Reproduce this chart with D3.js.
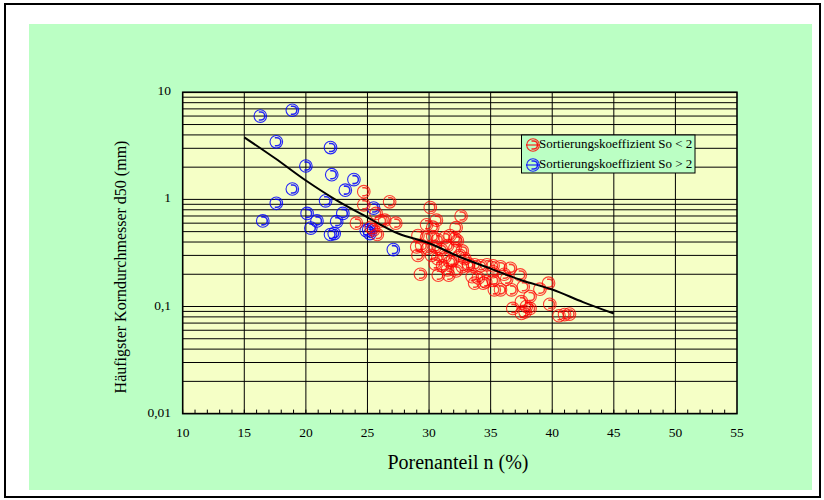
<!DOCTYPE html>
<html><head><meta charset="utf-8">
<script src="https://cdn.jsdelivr.net/npm/d3@7/dist/d3.min.js"></script>
<style>body{margin:0;background:#fff}svg{display:block}</style>
</head><body><svg id="c" width="824" height="500" font-family="'Liberation Serif', 'Times New Roman', Times, 'DejaVu Serif', serif"></svg>
<script>
// ---- data ----
const xTicks = [10,15,20,25,30,35,40,45,50,55];
const yTicks = [10,1,0.1,0.01];
const yTickLabels = ["10","1","0,1","0,01"];
const seriesNames = ["Sortierungskoeffizient So < 2","Sortierungskoeffizient So > 2"];
const blueX = [16.3,18.9,17.6,22.0,20.0,22.1,23.9,23.2,18.9,21.6,17.6,16.5,20.1,20.9,20.4,23.0,22.5,22.0,22.3,24.9,25.5,25.1,25.2,27.1];
const blueY = [6.0,6.8,3.45,3.05,2.05,1.7,1.53,1.22,1.25,0.97,0.92,0.63,0.74,0.63,0.54,0.74,0.62,0.47,0.48,0.51,0.83,0.52,0.48,0.34];
const redX = [24.7,24.7,26.8,24.1,25.7,26.4,27.3,25.5,25.8,25.3,26.1,
  30.1,32.6,30.6,29.8,32.2,30.3,
  29.1,29.8,30.3,30.7,31.3,31.7,32.1,32.3,
  29.4,29.9,30.5,31.0,31.5,32.1,32.7,
  30.2,30.7,31.3,31.9,32.5,32.9,
  30.5,31.1,31.7,32.7,33.2,
  31.5,32.2,
  29.0,29.1,29.3,30.75,31.6,
  33.2,33.7,34.2,34.7,35.2,35.8,33.5,34.0,34.6,35.2,33.7,34.4,35.3,36.6,35.2,37.4,36.7,35.8,37.65,38.2,37.5,37.9,38.2,36.8,37.5,37.8,39.7,39.0,39.8,40.55,41.0,41.4,36.1,36.3];
const redY = [1.18,0.89,0.95,0.60,0.74,0.64,0.60,0.52,0.47,0.55,0.63,
  0.84,0.70,0.64,0.58,0.545,0.55,
  0.46,0.44,0.45,0.42,0.44,0.46,0.43,0.41,
  0.37,0.35,0.36,0.34,0.37,0.35,0.33,
  0.30,0.28,0.29,0.27,0.30,0.28,
  0.25,0.24,0.26,0.235,0.25,
  0.22,0.215,
  0.36,0.30,0.20,0.196,0.196,
  0.24,0.245,0.24,0.245,0.24,0.235,0.19,0.185,0.17,0.175,0.165,0.165,0.143,0.227,0.211,0.197,0.143,0.143,0.153,0.124,0.111,0.10,0.096,0.096,0.086,0.089,0.165,0.145,0.105,0.082,0.084,0.085,0.20,0.18];
const fitX = [15,17.5,20,22.5,25,27.5,30,32.5,35,37.5,40,42.5,45];
const fitY = [3.8,2.42,1.5,0.98,0.68,0.48,0.39,0.29,0.226,0.176,0.144,0.11,0.086];

// ---- layout ----
const svg = d3.select("#c");
const L=182.7, R=737, T=92.3, B=413.6;
const x = d3.scaleLinear().domain([10,55]).range([L,R]);
const y = d3.scaleLog().domain([0.01,10]).range([B,T]);

svg.append("rect").attr("x",5).attr("y",4).attr("width",815).attr("height",493)
  .attr("fill","#fff").attr("stroke","#000").attr("stroke-width",2);
svg.append("rect").attr("x",29).attr("y",24).attr("width",783).attr("height",466).attr("fill","#BBFFC4");
svg.append("rect").attr("x",L).attr("y",T).attr("width",R-L).attr("height",B-T).attr("fill","#F5FFC6");

// horizontal grid at every log tick
const hGrid = y.ticks().filter(v=>v>0.01-1e-9 && v<10+1e-9);
svg.append("g").selectAll("line").data(hGrid).join("line")
  .attr("x1",L).attr("x2",R).attr("y1",d=>y(d)).attr("y2",d=>y(d))
  .attr("stroke","#000").attr("stroke-width",1);
// vertical grid
svg.append("g").selectAll("line").data(xTicks.slice(1,-1)).join("line")
  .attr("x1",d=>x(d)).attr("x2",d=>x(d)).attr("y1",T).attr("y2",B)
  .attr("stroke","#000").attr("stroke-width",1);
// minor x ticks
svg.append("g").selectAll("line").data(d3.range(10,55,1)).join("line")
  .attr("x1",d=>x(d)).attr("x2",d=>x(d)).attr("y1",B).attr("y2",B-4)
  .attr("stroke","#000").attr("stroke-width",1);
svg.append("rect").attr("x",L).attr("y",T).attr("width",R-L).attr("height",B-T)
  .attr("fill","none").attr("stroke","#000").attr("stroke-width",1.6);

// tick labels
svg.append("g").selectAll("text").data(xTicks).join("text")
  .attr("x",d=>x(d)).attr("y",434).attr("text-anchor","middle").attr("dominant-baseline","middle")
  .attr("font-size",13.5).text(d=>d);
svg.append("g").selectAll("text").data(yTicks).join("text")
  .attr("x",171).attr("y",d=>y(d)).attr("text-anchor","end").attr("dominant-baseline","middle")
  .attr("font-size",13.5).text((d,i)=>yTickLabels[i]);

// axis titles
svg.append("text").attr("x",458).attr("y",464).attr("text-anchor","middle").attr("dominant-baseline","middle")
  .attr("font-size",20).text("Porenanteil n (%)");
svg.append("text").attr("transform",`translate(122,267) rotate(-90)`).attr("text-anchor","middle")
  .attr("dominant-baseline","middle").attr("font-size",16).text("Häufigster Korndurchmesser d50 (mm)");

// markers
function marker(g,color,op){
  g.append("circle").attr("r",6.3).attr("fill","none").attr("stroke",color).attr("stroke-width",1.1).attr("stroke-opacity",op);
  g.append("path").attr("d","M-1.5,-4 L0.5,-4 A4,4 0 0,1 0.5,4 L-1.5,4").attr("fill","none")
    .attr("stroke",color).attr("stroke-width",1.6).attr("stroke-opacity",op);
}
const bd = blueX.map((v,i)=>[v,blueY[i]]);
const rd = redX.map((v,i)=>[v,redY[i]]);
svg.append("g").selectAll("g").data(bd).join("g").attr("transform",d=>`translate(${x(d[0])},${y(d[1])})`)
  .each(function(){marker(d3.select(this),"#0000FF",0.85);});
svg.append("g").selectAll("g").data(rd).join("g").attr("transform",d=>`translate(${x(d[0])},${y(d[1])})`)
  .each(function(){marker(d3.select(this),"#FF0000",0.75);});

// fit curve
const fd = fitX.map((v,i)=>[v,fitY[i]]);
svg.append("path").datum(fd).attr("fill","none").attr("stroke","#000").attr("stroke-width",2)
  .attr("d",d3.line().x(d=>x(d[0])).y(d=>y(d[1])).curve(d3.curveCatmullRom));

// legend
const lg = svg.append("g");
lg.append("rect").attr("x",521.5).attr("y",135).attr("width",173.5).attr("height",38)
  .attr("fill","#BBFFC4").attr("stroke","#000").attr("stroke-width",1);
const lc = ["#FF0000","#0000FF"];
seriesNames.forEach((s,i)=>{
  const yy = 145+i*20;
  lg.append("line").attr("x1",526).attr("x2",540).attr("y1",yy).attr("y2",yy).attr("stroke",lc[i]).attr("stroke-width",1);
  const m = lg.append("g").attr("transform",`translate(533,${yy})`);
  marker(m,lc[i],0.85);
  lg.append("text").attr("x",539).attr("y",yy).attr("dominant-baseline","middle").attr("font-size",13).text(s);
});
</script></body></html>
